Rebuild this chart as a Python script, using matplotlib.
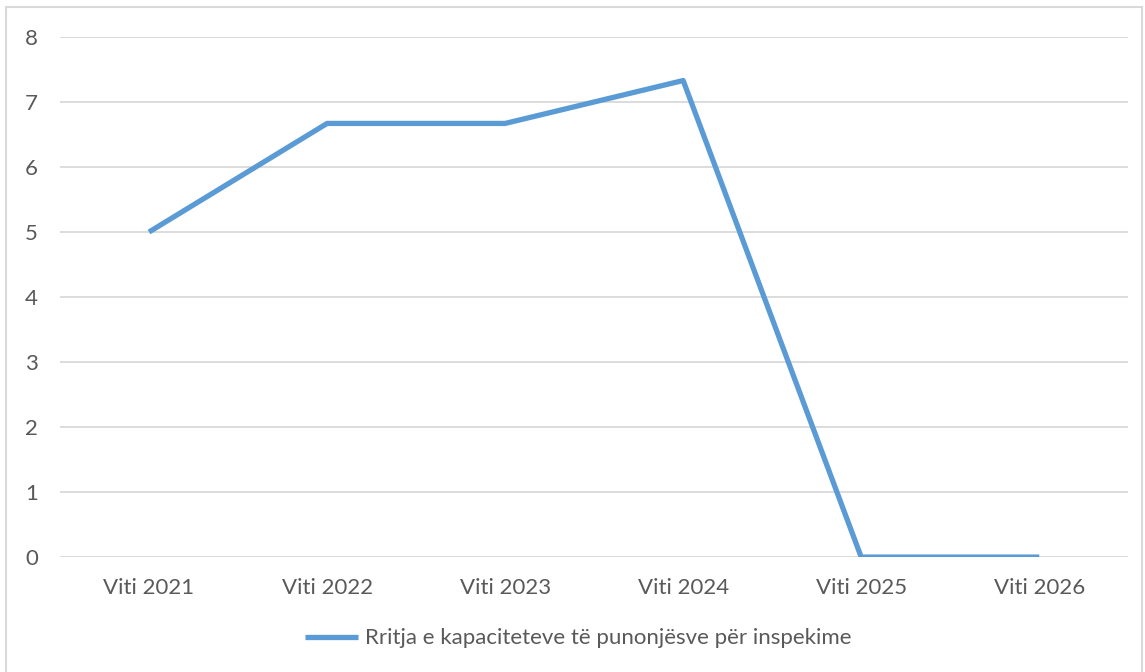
import matplotlib
matplotlib.use("Agg")
from matplotlib import pyplot as plt
from matplotlib.patches import Rectangle

# data
categories = ["Viti 2021", "Viti 2022", "Viti 2023", "Viti 2024", "Viti 2025", "Viti 2026"]
values = [5, 6.67, 6.67, 7.33, 0, 0]
series_name = "Rritja e kapaciteteve të punonjësve për inspekime"

plt.rcParams['font.family'] = ['Lato', 'DejaVu Sans']
text_color = "#595959"
line_color = "#5B9BD5"

fig = plt.figure(figsize=(11.45, 6.72), dpi=100)
ax = fig.add_axes([0.0524, 0.171, 0.933, 0.774])

x = list(range(len(categories)))
ax.plot(x, values, color=line_color, linewidth=3.8, solid_joinstyle="round",
        solid_capstyle="butt", label=series_name, zorder=3)

ax.set_xlim(-0.5, len(categories) - 0.5)
ax.set_ylim(0, 8)
ax.set_yticks(range(0, 9))
ax.set_xticks(x)
ax.set_xticklabels(categories)
ax.grid(axis="y", color="#D9D9D9", linewidth=1.3)
ax.set_axisbelow(True)
for s in ax.spines.values():
    s.set_visible(False)
ax.tick_params(length=0, labelsize=16, colors=text_color)
ax.tick_params(axis="x", pad=15)
ax.tick_params(axis="y", pad=16)

leg = fig.legend(loc="center", bbox_to_anchor=(0.505, 0.05), frameon=False,
                 fontsize=16, handlelength=2.4, handletextpad=0.3)
for t in leg.get_texts():
    t.set_color(text_color)

# light frame around the chart
fig.patches.append(Rectangle((6 / 1145, -0.01), 1136 / 1145, 1 - 7 / 672 + 0.01,
                             transform=fig.transFigure, fill=False,
                             edgecolor="#D9D9D9", linewidth=1.5))

fig.savefig("out.png", dpi=100)
